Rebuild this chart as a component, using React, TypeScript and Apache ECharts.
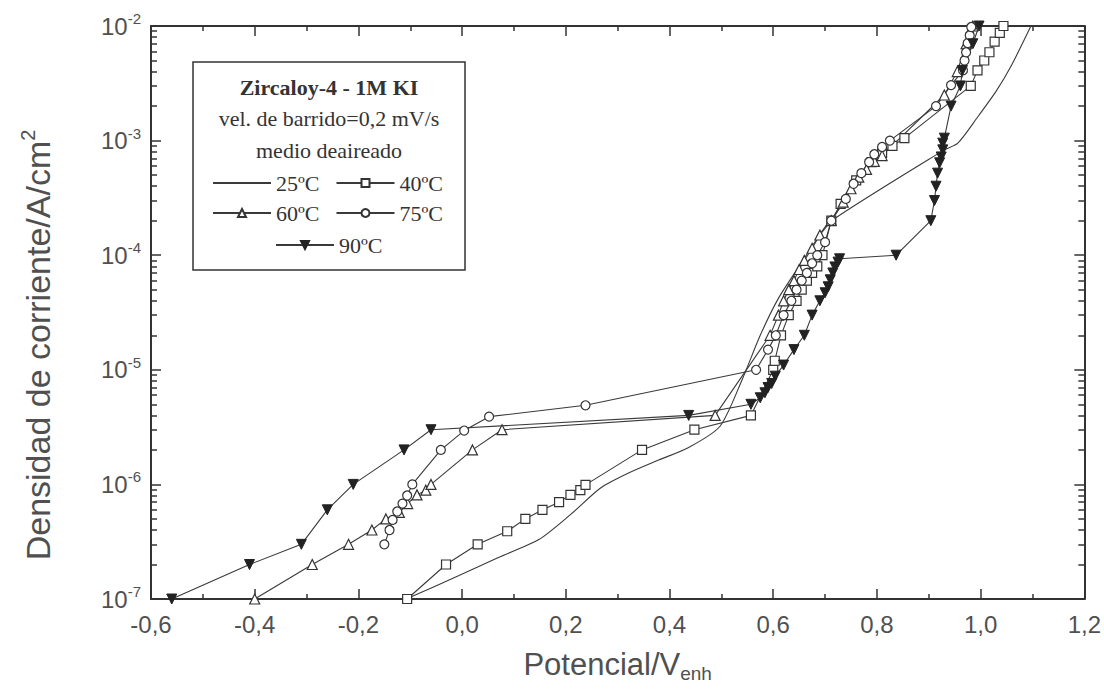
import React, { useEffect, useRef } from "react";
import * as echarts from "echarts";

// Potential (V_enh) vs current density (A/cm2)
const series25: number[][] = [
  [-0.108, 1e-7], [-0.006, 1.6e-7], [0.07, 2.3e-7], [0.148, 3.3e-7], [0.21, 5.5e-7],
  [0.267, 9.3e-7], [0.32, 1.25e-6], [0.379, 1.63e-6], [0.437, 2.1e-6], [0.497, 3.2e-6],
  [0.54, 8.2e-6], [0.575, 2e-5], [0.61, 4.2e-5], [0.65, 8e-5], [0.685, 1.4e-4],
  [0.709, 1.95e-4], [0.93, 8.3e-4], [0.956, 9.5e-4], [0.994, 1.6e-3], [1.03, 2.7e-3],
  [1.058, 4.4e-3], [1.097, 1e-2],
];
const series40: number[][] = [
  [-0.106, 1e-7], [-0.031, 2e-7], [0.03, 3e-7], [0.087, 3.9e-7], [0.122, 5e-7],
  [0.155, 6e-7], [0.187, 7e-7], [0.209, 8.1e-7], [0.228, 8.9e-7], [0.238, 9.9e-7],
  [0.347, 2e-6], [0.448, 3e-6], [0.557, 4e-6], [0.6, 1e-5], [0.603, 1.2e-5],
  [0.615, 2e-5], [0.63, 3e-5], [0.645, 4e-5], [0.655, 5e-5], [0.665, 6e-5],
  [0.675, 7e-5], [0.685, 8e-5], [0.695, 1e-4], [0.712, 2e-4], [0.73, 2.8e-4],
  [0.76, 4.5e-4], [0.79, 6.5e-4], [0.81, 7.8e-4], [0.83, 9e-4], [0.853, 1.05e-3],
  [0.981, 3e-3], [0.994, 4.1e-3], [1.007, 5e-3], [1.017, 5.9e-3], [1.027, 7.3e-3],
  [1.037, 8.7e-3], [1.044, 1e-2],
];
const series60: number[][] = [
  [-0.4, 1e-7], [-0.289, 2e-7], [-0.219, 3e-7], [-0.174, 4e-7], [-0.147, 5e-7],
  [-0.121, 5.7e-7], [-0.105, 6.8e-7], [-0.087, 8.1e-7], [-0.07, 8.9e-7], [-0.06, 1e-6],
  [0.02, 2e-6], [0.077, 3e-6], [0.488, 4e-6], [0.594, 2e-5], [0.61, 3e-5],
  [0.62, 4e-5], [0.63, 5e-5], [0.64, 6e-5], [0.65, 7.5e-5], [0.66, 9e-5],
  [0.675, 1.15e-4], [0.69, 1.5e-4], [0.712, 2e-4], [0.735, 2.9e-4], [0.75, 3.8e-4],
  [0.765, 4.8e-4], [0.78, 5.6e-4], [0.795, 6.6e-4], [0.81, 7.4e-4], [0.93, 2.5e-3],
  [0.955, 4e-3], [0.972, 7e-3], [0.985, 1e-2],
];
const series75: number[][] = [
  [-0.15, 3e-7], [-0.14, 4e-7], [-0.134, 4.9e-7], [-0.125, 5.8e-7], [-0.115, 6.8e-7],
  [-0.106, 8e-7], [-0.096, 1e-6], [-0.041, 2e-6], [0.004, 2.95e-6], [0.052, 3.9e-6],
  [0.238, 4.9e-6], [0.567, 1e-5], [0.59, 1.5e-5], [0.605, 2e-5], [0.62, 3e-5],
  [0.635, 4e-5], [0.645, 5e-5], [0.655, 6e-5], [0.665, 7e-5], [0.675, 8.5e-5],
  [0.685, 1e-4], [0.7, 1.3e-4], [0.712, 2e-4], [0.74, 3.1e-4], [0.755, 4.2e-4],
  [0.77, 5.2e-4], [0.785, 6.5e-4], [0.795, 7.6e-4], [0.81, 8.8e-4], [0.825, 1e-3],
  [0.914, 2e-3], [0.943, 3.05e-3], [0.966, 4.1e-3], [0.969, 5e-3], [0.972, 5.9e-3],
  [0.975, 7.1e-3], [0.979, 8.3e-3], [0.982, 9.8e-3],
];
const series90: number[][] = [
  [-0.56, 1e-7], [-0.41, 2e-7], [-0.31, 3e-7], [-0.26, 6e-7], [-0.21, 1e-6],
  [-0.112, 2e-6], [-0.06, 3e-6], [0.437, 4e-6], [0.557, 5e-6], [0.575, 5.7e-6],
  [0.584, 6.3e-6], [0.59, 7e-6], [0.597, 7.6e-6], [0.604, 8.8e-6], [0.62, 1.1e-5],
  [0.64, 1.5e-5], [0.66, 2e-5], [0.675, 3e-5], [0.69, 4e-5], [0.7, 4.7e-5],
  [0.706, 5.3e-5], [0.71, 6.1e-5], [0.715, 7e-5], [0.719, 7.9e-5], [0.725, 8.7e-5],
  [0.728, 9.3e-5], [0.837, 1e-4], [0.904, 2e-4], [0.911, 3e-4], [0.914, 4e-4],
  [0.917, 5.2e-4], [0.921, 6.4e-4], [0.924, 7.2e-4], [0.927, 8.3e-4], [0.927, 9.5e-4],
  [0.93, 1.05e-3], [0.943, 2e-3], [0.961, 3e-3], [0.965, 4.1e-3], [0.985, 7e-3],
  [0.997, 1e-2],
];

const seriesNames = ["25ºC", "40ºC", "60ºC", "75ºC", "90ºC"];
const legendRows = [["25ºC", "40ºC"], ["60ºC", "75ºC"], ["90ºC"]];
const boxTitle = "Zircaloy-4 - 1M KI";
const boxLines = ["vel. de barrido=0,2 mV/s", "medio deaireado"];
const decadeExponents = [-7, -6, -5, -4, -3, -2];
const minorMultipliers = [2, 3, 4, 5, 6, 7, 8, 9];

const INK = "#333";
const TXT = "#505050";

export default function App() {
  const ref = useRef<HTMLDivElement>(null);
  useEffect(() => {
    if (!ref.current) return;
    const chart = echarts.init(ref.current, null, { renderer: "svg" });

    const minorVals: number[] = [];
    decadeExponents.slice(0, -1).forEach((e) => {
      minorMultipliers.forEach((m) => minorVals.push(Number((m * Math.pow(10, e)).toPrecision(3))));
    });

    const xFmt = (v: number) => (Math.abs(v) < 1e-9 ? "0,0" : v.toFixed(1).replace(".", ","));
    const yFmt = (v: number) => `{b|10}{e|${Math.round(Math.log10(v))}}`;

    const tickLine = { color: INK, width: 1.5 };
    const xBase = {
      type: "value" as const,
      min: -0.6,
      max: 1.2,
      interval: 0.2,
      splitLine: { show: false },
      axisLine: { show: true, onZero: false, lineStyle: { color: INK, width: 2 } },
      axisTick: { show: true, inside: true, length: 10, lineStyle: tickLine },
      minorTick: { show: true, splitNumber: 2, length: 5, lineStyle: tickLine },
    };
    const yBase = {
      type: "log" as const,
      logBase: 10,
      min: 1e-7,
      max: 1e-2,
      splitLine: { show: false },
      minorSplitLine: { show: false },
    };

    const symbolStyle = { color: "#fff", borderColor: INK, borderWidth: 1.2 };
    const lineStyle = { color: "#3a3a3a", width: 1.1 };

    const option: any = {
      animation: false,
      backgroundColor: "#fff",
      grid: { left: 151, top: 26, width: 935, height: 573, containLabel: false },
      xAxis: [
        {
          ...xBase,
          position: "bottom",
          axisLabel: {
            formatter: xFmt,
            fontSize: 24,
            color: TXT,
            fontFamily: "Liberation Sans",
            margin: 13,
            showMinLabel: true,
            showMaxLabel: true,
          },
          name: "{a|Potencial/V}{s|enh}",
          nameLocation: "middle",
          nameGap: 46,
          nameTextStyle: {
            rich: {
              a: { fontSize: 31, color: TXT, fontFamily: "Liberation Sans", lineHeight: 38 },
              s: { fontSize: 19, color: TXT, fontFamily: "Liberation Sans", lineHeight: 19, verticalAlign: "bottom" },
            },
          },
        },
        { ...xBase, position: "top", axisLabel: { show: false } },
      ],
      yAxis: [
        {
          ...yBase,
          position: "left",
          axisLine: { show: true, onZero: false, lineStyle: { color: INK, width: 2 } },
          axisTick: { show: true, inside: true, length: 10, lineStyle: tickLine },
          axisLabel: {
            formatter: yFmt,
            margin: 10,
            rich: {
              b: { fontSize: 24, color: TXT, fontFamily: "Liberation Sans", lineHeight: 30 },
              e: { fontSize: 15, color: TXT, fontFamily: "Liberation Sans", lineHeight: 15, verticalAlign: "top" },
            },
          },
        },
        {
          ...yBase,
          position: "right",
          axisLine: { show: true, onZero: false, lineStyle: { color: INK, width: 2 } },
          axisTick: { show: true, inside: true, length: 10, lineStyle: tickLine },
          axisLabel: { show: false },
        },
        {
          ...yBase,
          position: "left",
          axisLine: { show: false, onZero: false },
          axisTick: { show: true, inside: true, length: 6, lineStyle: tickLine, customValues: minorVals },
          axisLabel: { show: false },
        },
        {
          ...yBase,
          position: "right",
          axisLine: { show: false, onZero: false },
          axisTick: { show: true, inside: true, length: 6, lineStyle: tickLine, customValues: minorVals },
          axisLabel: { show: false },
        },
      ],
      legend: legendRows.map((row, i) => ({
        data: row.map((n) => (n === seriesNames[0] ? { name: n, itemStyle: { opacity: 0 } } : n)),
        left: i === 2 ? 275 : 212,
        top: [172, 202, 234][i],
        orient: "horizontal",
        itemWidth: 58,
        itemHeight: 10,
        itemGap: 16,
        padding: 0,
        selectedMode: false,
        textStyle: { fontFamily: "Liberation Serif", fontSize: 22, color: INK },
        z: 10,
      })),
      graphic: [
        {
          type: "rect",
          z: 5,
          shape: { x: 193, y: 62, width: 272, height: 208 },
          style: { fill: "#fff", stroke: INK, lineWidth: 1.5 },
        },
        {
          type: "text",
          z: 6,
          x: 329,
          y: 87,
          style: {
            text: boxTitle,
            fontFamily: "Liberation Serif",
            fontWeight: "bold",
            fontSize: 22,
            fill: INK,
            align: "center",
            verticalAlign: "middle",
          },
        },
        ...boxLines.map((t, i) => ({
          type: "text",
          z: 6,
          x: 329,
          y: 118 + i * 32,
          style: {
            text: t,
            fontFamily: "Liberation Serif",
            fontSize: 22,
            fill: INK,
            align: "center",
            verticalAlign: "middle",
          },
        })),
        {
          type: "text",
          x: 38,
          y: 345,
          rotation: Math.PI / 2,
          style: {
            text: "{a|Densidad de corriente/A/cm}{s|2}",
            align: "center",
            verticalAlign: "middle",
            rich: {
              a: { fontSize: 34, fill: TXT, fontFamily: "Liberation Sans", lineHeight: 40 },
              s: { fontSize: 20, fill: TXT, fontFamily: "Liberation Sans", lineHeight: 20, verticalAlign: "top" },
            },
          },
        },
      ],
      series: [
        {
          name: seriesNames[0],
          type: "line",
          data: series25,
          symbol: "none",
          showSymbol: false,
          smooth: 0.25,
          lineStyle,
          itemStyle: { color: "#3a3a3a" },
        },
        {
          name: seriesNames[1],
          type: "line",
          data: series40,
          symbol: "rect",
          symbolSize: 9,
          lineStyle,
          itemStyle: symbolStyle,
        },
        {
          name: seriesNames[2],
          type: "line",
          data: series60,
          symbol: "triangle",
          symbolSize: 10,
          lineStyle,
          itemStyle: symbolStyle,
        },
        {
          name: seriesNames[3],
          type: "line",
          data: series75,
          symbol: "circle",
          symbolSize: 9,
          lineStyle,
          itemStyle: symbolStyle,
        },
        {
          name: seriesNames[4],
          type: "line",
          data: series90,
          symbol: "triangle",
          symbolRotate: 180,
          symbolSize: 10,
          lineStyle,
          itemStyle: { color: "#222", borderColor: "#222", borderWidth: 1 },
        },
      ],
    };

    chart.setOption(option);
    return () => chart.dispose();
  }, []);

  return (
    <div
      ref={ref}
      style={{ position: "absolute", left: 0, top: 0, width: 1104, height: 695, background: "#fff" }}
    />
  );
}
